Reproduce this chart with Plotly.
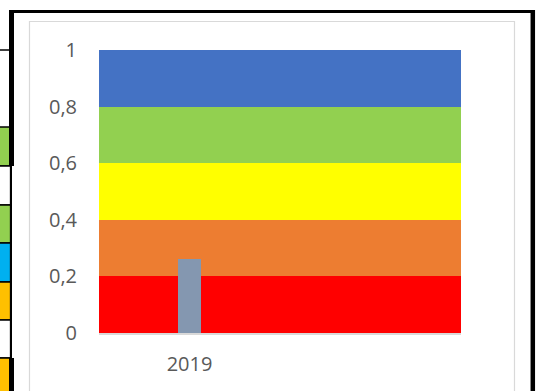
import plotly.graph_objects as go

# Background bands (stacked rating zones) and the measured value
band_bases = [0.0, 0.2, 0.4, 0.6, 0.8]
band_heights = [0.2, 0.2, 0.2, 0.2, 0.2]
band_colors = ["#FF0000", "#ED7D31", "#FFFF00", "#92D050", "#4472C4"]

categories = ["2019"]
values = [0.26]
bar_color = "#8497B0"

y_ticks = [0, 0.2, 0.4, 0.6, 0.8, 1]
y_tick_labels = ["0", "0,2", "0,4", "0,6", "0,8", "1"]

W, H = 537, 391
L, R, T, B = 99, 76, 50, 58
PW, PH = W - L - R, H - T - B


def px(x):
    return (x - L) / PW


def py(y):
    return (H - B - y) / PH


fig = go.Figure()

for base, h, c in zip(band_bases, band_heights, band_colors):
    fig.add_trace(go.Bar(
        x=[1], y=[h], base=[base], width=[2],
        marker=dict(color=c, line=dict(width=0)),
        hoverinfo="skip", showlegend=False,
    ))

fig.add_trace(go.Bar(
    x=[0.5 + i for i in range(len(categories))], y=values, width=[0.127] * len(values),
    marker=dict(color=bar_color, line=dict(width=0)),
    showlegend=False,
))

shapes = []
# chart area outline
shapes.append(dict(type="rect", xref="paper", yref="paper",
                   x0=px(29.5), x1=px(514.5), y0=py(400), y1=py(21.5),
                   line=dict(color="#D9D9D9", width=1.2), fillcolor="white", layer="below"))

# spreadsheet cells peeking out on the left
cells = [(127, 166, "#92D050"), (166, 205, "white"), (205, 243, "#92D050"),
         (243, 282, "#00B0F0"), (282, 320, "#FFC000"), (320, 358, "white"),
         (358, 395, "#FFC000")]
for y0, y1, c in cells:
    shapes.append(dict(type="rect", xref="paper", yref="paper",
                       x0=px(-5), x1=px(10.5), y0=py(y1), y1=py(y0),
                       line=dict(color="black", width=1.3), fillcolor=c, layer="above"))
shapes.append(dict(type="line", xref="paper", yref="paper",
                   x0=px(-5), x1=px(11), y0=py(50), y1=py(50),
                   line=dict(color="black", width=1.5)))

# thick black frame around the chart object
shapes.append(dict(type="line", xref="paper", yref="paper",
                   x0=px(9), x1=px(535), y0=py(11.5), y1=py(11.5),
                   line=dict(color="black", width=3)))
shapes.append(dict(type="line", xref="paper", yref="paper",
                   x0=px(532.8), x1=px(532.8), y0=py(400), y1=py(10),
                   line=dict(color="black", width=4.5)))
shapes.append(dict(type="line", xref="paper", yref="paper",
                   x0=px(11.5), x1=px(11.5), y0=py(166), y1=py(10),
                   line=dict(color="black", width=5)))
shapes.append(dict(type="line", xref="paper", yref="paper",
                   x0=px(11), x1=px(11), y0=py(358), y1=py(166),
                   line=dict(color="black", width=2)))
shapes.append(dict(type="line", xref="paper", yref="paper",
                   x0=px(11.5), x1=px(11.5), y0=py(400), y1=py(358),
                   line=dict(color="black", width=5)))

fig.update_layout(
    width=W, height=H,
    margin=dict(l=L, r=R, t=T, b=B, pad=0),
    paper_bgcolor="white", plot_bgcolor="white",
    barmode="overlay", bargap=0,
    font=dict(family="Open Sans", size=20, color="#595959"),
    shapes=shapes,
    xaxis=dict(range=[0, 2], tickvals=[0.5 + i for i in range(len(categories))],
               ticktext=categories, showgrid=False, zeroline=False,
               showline=True, linecolor="#D9D9D9", linewidth=1.5,
               ticks="", ticklabelstandoff=12, fixedrange=True),
    yaxis=dict(range=[0, 1], tickvals=y_ticks, ticktext=y_tick_labels,
               showgrid=False, zeroline=False, showline=False,
               ticks="", ticklabelstandoff=21, fixedrange=True),
)

fig.write_html("out.html")
